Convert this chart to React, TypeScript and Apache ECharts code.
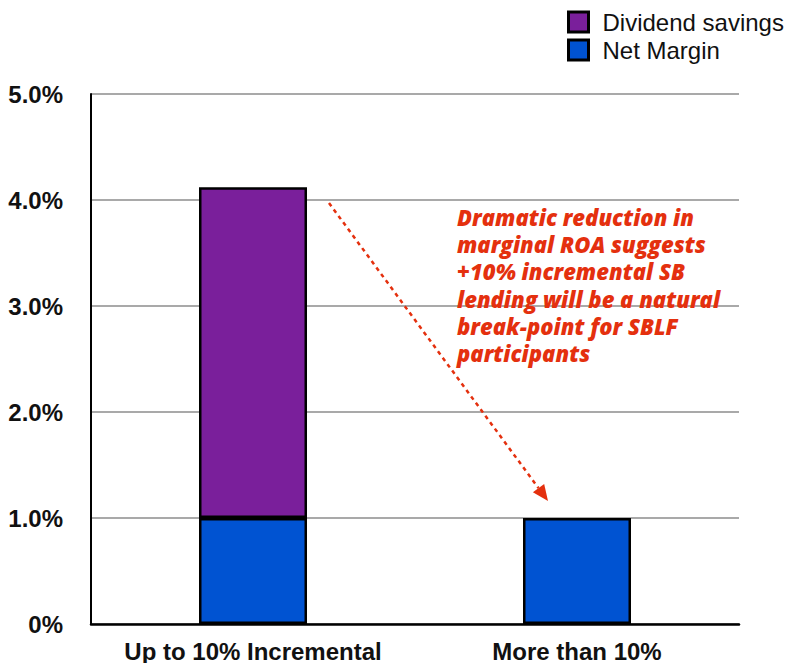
import React, { useEffect, useRef } from "react";
import * as echarts from "echarts";

const categories = ["Up to 10% Incremental", "More than 10%"];
const netMargin = [1.0, 1.0];
const dividendSavings: (number | null)[] = [3.12, null];
const yTicks = [0, 1, 2, 3, 4, 5];
const noteLines = [
  "Dramatic reduction in",
  "marginal ROA suggests",
  "+10% incremental SB",
  "lending will be a natural",
  "break-point for SBLF",
  "participants",
];

const RED = "#e4300e";
const SANS = '"Liberation Sans", Arial, Helvetica, sans-serif';

export default function App() {
  const ref = useRef<HTMLDivElement>(null);

  useEffect(() => {
    if (!ref.current) return;
    const chart = echarts.init(ref.current, undefined, { renderer: "svg" });

    // arrow geometry: dotted shaft ending in a solid head
    const tip = [548, 501];
    const start = [329, 203];
    const dx = tip[0] - start[0];
    const dy = tip[1] - start[1];
    const len = Math.hypot(dx, dy);
    const ux = dx / len;
    const uy = dy / len;
    const headLen = 16;
    const headHalf = 7;
    const base = [tip[0] - ux * headLen, tip[1] - uy * headLen];

    // annotation, one text element per line
    const noteTexts = noteLines.map((line, i) => ({
      type: "text",
      left: 457,
      top: 206 + i * 27.2,
      style: {
        text: line,
        fill: RED,
        font: 'italic 800 22px "Open Sans", Lato, sans-serif',
      },
      z: 10,
    }));

    chart.setOption({
      animation: false,
      backgroundColor: "#ffffff",
      textStyle: { fontFamily: SANS },
      legend: {
        data: ["Dividend savings", "Net Margin"],
        orient: "vertical",
        left: 562,
        top: 5,
        itemWidth: 20,
        itemHeight: 20,
        itemGap: 4,
        icon: "rect",
        itemStyle: { borderColor: "#000", borderWidth: 3 },
        textStyle: {
          fontFamily: SANS,
          fontSize: 24,
          color: "#111",
          padding: [0, 0, 0, 9],
        },
      },
      grid: { left: 91, right: 57, top: 94, bottom: 39, containLabel: false },
      xAxis: {
        type: "category",
        data: categories,
        axisLine: { show: true, lineStyle: { color: "#000", width: 2.5 } },
        axisTick: { show: false },
        axisLabel: {
          interval: 0,
          fontFamily: SANS,
          fontWeight: "bold",
          fontSize: 24,
          color: "#111",
          margin: 15,
        },
      },
      yAxis: {
        type: "value",
        min: 0,
        max: 5,
        interval: 1,
        axisLine: { show: true, lineStyle: { color: "#000", width: 2 } },
        axisTick: { show: false },
        splitLine: { show: true, lineStyle: { color: "#a9a9a9", width: 2 } },
        axisLabel: {
          fontFamily: SANS,
          fontWeight: "bold",
          fontSize: 24,
          color: "#111",
          margin: 28,
          formatter: (v: number) =>
            yTicks.includes(v) ? (v === 0 ? "0%" : v.toFixed(1) + "%") : "",
        },
      },
      series: [
        {
          name: "Net Margin",
          type: "bar",
          stack: "roa",
          barWidth: 108,
          data: netMargin,
          itemStyle: { color: "#0053d2", borderColor: "#000", borderWidth: 2.5 },
        },
        {
          name: "Dividend savings",
          type: "bar",
          stack: "roa",
          barWidth: 108,
          data: dividendSavings,
          itemStyle: { color: "#7a1f9b", borderColor: "#000", borderWidth: 2.5 },
        },
      ],
      graphic: [
        {
          type: "line",
          shape: { x1: start[0], y1: start[1], x2: base[0], y2: base[1] },
          style: { stroke: RED, lineWidth: 2.5, lineDash: [4, 4] },
          z: 10,
        },
        {
          type: "polygon",
          shape: {
            points: [
              tip,
              [base[0] - uy * headHalf, base[1] + ux * headHalf],
              [base[0] + uy * headHalf, base[1] - ux * headHalf],
            ],
          },
          style: { fill: RED },
          z: 10,
        },
        ...noteTexts,
      ],
    });

    return () => chart.dispose();
  }, []);

  return <div ref={ref} style={{ width: 796, height: 663, position: "absolute", left: 0, top: 0 }} />;
}
